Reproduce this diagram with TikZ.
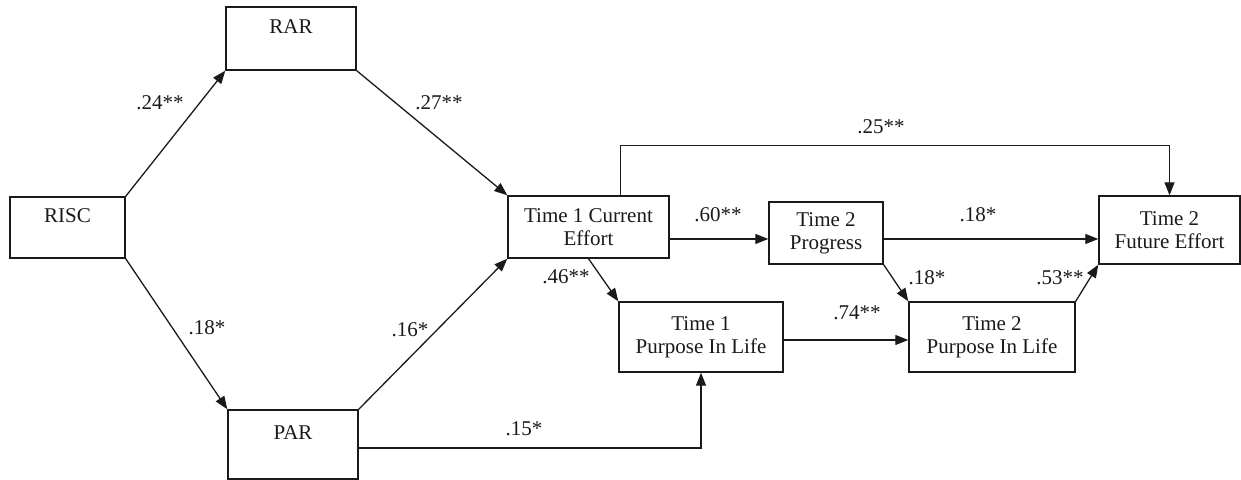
\documentclass[tikz,border=0pt]{standalone}
\usepackage{fontspec}
\setmainfont{Liberation Serif}
\usetikzlibrary{arrows.meta,positioning}
\definecolor{tinta}{HTML}{1A1A1A}
\tikzset{
  caja/.style={rectangle,draw=tinta,fill=white,line width=0.7pt,align=center,inner sep=0pt,font=\fontsize{10.5}{11.5}\selectfont,text=tinta},
  flecha/.style={draw=tinta,line width=0.65pt,-{Triangle[length=6.5pt,width=5pt]}},
  coef/.style={font=\fontsize{10.5}{11.5}\selectfont,text=tinta,inner sep=0pt},
}

\begin{document}
\begin{tikzpicture}[x=0.5pt,y=0.5pt]
\useasboundingbox (0,0) rectangle (1241,480);
\coordinate (c1) at (67.5,252.5);
\coordinate (c2) at (291,441.5);
\coordinate (c3) at (293,35.5);
\coordinate (c4) at (588.5,253);
\coordinate (c5) at (826,247);
\coordinate (c6) at (1169.5,250);
\coordinate (c7) at (701,143);
\coordinate (c8) at (992,143);
\node[caja,minimum width=57.5pt,minimum height=30.5pt] (risc) at (c1) {RISC\\~};
\node[caja,minimum width=65pt,minimum height=31.5pt] (rar) at (c2) {RAR\\~};
\node[caja,minimum width=65pt,minimum height=34.5pt] (par) at (c3) {PAR\\~};
\node[caja,minimum width=80.5pt,minimum height=31pt] (t1ce) at (c4) {Time 1 Current\\Effort};
\node[caja,minimum width=57pt,minimum height=31pt] (prog) at (c5) {Time 2\\Progress};
\node[caja,minimum width=70.5pt,minimum height=34pt] (fe) at (c6) {Time 2\\Future Effort};
\node[caja,minimum width=82pt,minimum height=35pt] (t1pil) at (c7) {Time 1\\Purpose In Life};
\node[caja,minimum width=83pt,minimum height=35pt] (t2pil) at (c8) {Time 2\\Purpose In Life};
\draw[flecha] (risc.north east) -- (rar.south west);
\draw[flecha] (risc.south east) -- (par.north west);
\draw[flecha] (rar.south east) -- (t1ce.north west);
\draw[flecha] (par.north east) -- (t1ce.south west);
\draw[flecha] ([yshift=-6pt]t1ce.east) -- ([yshift=-6pt]t1ce.east -| prog.west);
\draw[flecha] ([yshift=-3pt]prog.east) -- ([yshift=-3pt]prog.east -| fe.west);
\draw[flecha] (t1ce.south) -- (t1pil.north west);
\draw[flecha] ([yshift=-1.5pt]t1pil.east) -- ([yshift=-1.5pt]t1pil.east -| t2pil.west);
\draw[flecha] (prog.south east) -- (t2pil.north west);
\draw[flecha] (t2pil.north east) -- (fe.south west);
\draw[flecha] ([yshift=-1.75pt]par.east) -| (t1pil.south);
\draw[flecha] ([xshift=16pt]t1ce.north) -- ++(0,50) -| (fe.north);
\node[coef] (k1) at (160,377) {.24**};
\node[coef] (k2) at (439,377) {.27**};
\node[coef] (k3) at (207,152) {.18*};
\node[coef] (k4) at (410,150) {.16*};
\node[coef] (k5) at (881,353) {.25**};
\node[coef] (k6) at (718,265) {.60**};
\node[coef] (k7) at (978,265) {.18*};
\node[coef] (k8) at (566,203) {.46**};
\node[coef] (k9) at (927,202) {.18*};
\node[coef] (k10) at (1060,202) {.53**};
\node[coef] (k11) at (857,167) {.74**};
\node[coef] (k12) at (524,51) {.15*};
\end{tikzpicture}
\end{document}
